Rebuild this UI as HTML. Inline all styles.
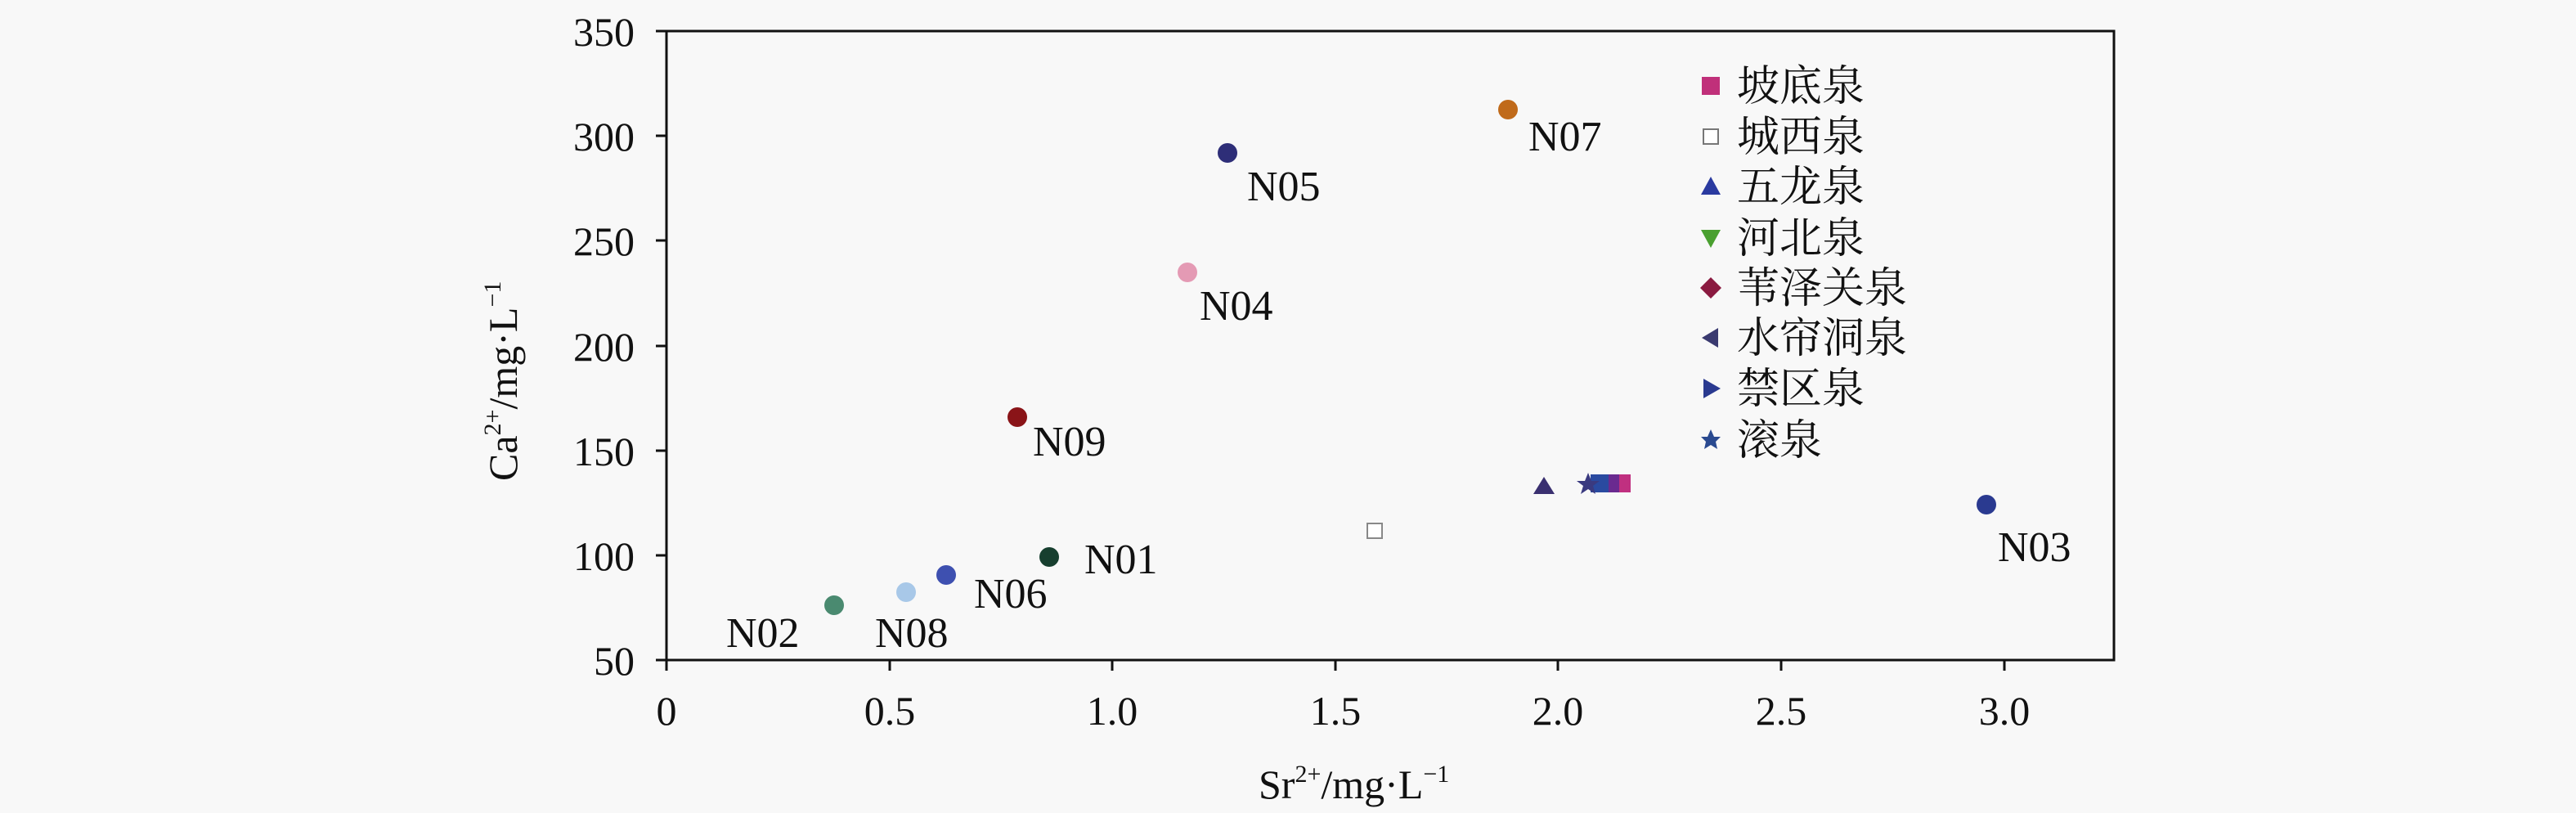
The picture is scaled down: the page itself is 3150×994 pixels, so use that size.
<!DOCTYPE html>
<html><head><meta charset="utf-8"><style>
html,body{margin:0;padding:0;background:#f8f8f8;}
svg{display:block;}
text{font-family:"Liberation Serif","Noto Serif CJK SC",serif;fill:#111;}
.cj{font-family:"Liberation Serif","Noto Serif CJK SC",serif;}
</style></head><body>
<svg width="3150" height="994" viewBox="0 0 3150 994" xmlns="http://www.w3.org/2000/svg">
<rect width="3150" height="994" fill="#f8f8f8"/>
<rect x="815" y="38" width="1770" height="769" fill="none" stroke="#111" stroke-width="3"/>
<g stroke="#111" stroke-width="3">
<line x1="802" y1="38" x2="815" y2="38"/><line x1="802" y1="166" x2="815" y2="166"/>
<line x1="802" y1="294" x2="815" y2="294"/><line x1="802" y1="423" x2="815" y2="423"/>
<line x1="802" y1="551" x2="815" y2="551"/><line x1="802" y1="679" x2="815" y2="679"/>
<line x1="802" y1="807" x2="815" y2="807"/>
<line x1="815" y1="807" x2="815" y2="820"/><line x1="1088" y1="807" x2="1088" y2="820"/>
<line x1="1360" y1="807" x2="1360" y2="820"/><line x1="1633" y1="807" x2="1633" y2="820"/>
<line x1="1905" y1="807" x2="1905" y2="820"/><line x1="2178" y1="807" x2="2178" y2="820"/>
<line x1="2451" y1="807" x2="2451" y2="820"/>
</g>
<g font-size="50" text-anchor="end">
<text x="776" y="56">350</text><text x="776" y="184">300</text><text x="776" y="312">250</text>
<text x="776" y="441">200</text><text x="776" y="569">150</text><text x="776" y="697">100</text>
<text x="776" y="825">50</text>
</g>
<g font-size="50" text-anchor="middle">
<text x="815" y="886">0</text><text x="1088" y="886">0.5</text><text x="1360" y="886">1.0</text>
<text x="1633" y="886">1.5</text><text x="1905" y="886">2.0</text><text x="2178" y="886">2.5</text>
<text x="2451" y="886">3.0</text>
</g>
<text x="1539" y="976" font-size="50">Sr<tspan font-size="30" dy="-20">2+</tspan><tspan dy="20">/mg·L</tspan><tspan font-size="30" dy="-20">−1</tspan></text>
<text transform="translate(632,588) rotate(-90)" font-size="50">Ca<tspan font-size="30" dy="-20">2+</tspan><tspan dy="20">/mg·L</tspan><tspan font-size="30" dy="-20">−1</tspan></text>
<circle cx="1501" cy="187" r="12" fill="#2e2e78"/>
<circle cx="1452" cy="333" r="12" fill="#e49ab4"/>
<circle cx="1244" cy="510" r="12" fill="#8a1418"/>
<circle cx="1283" cy="681" r="12" fill="#173f2f"/>
<circle cx="1157" cy="703" r="12" fill="#3e50b0"/>
<circle cx="1108" cy="724" r="12" fill="#a8c8e8"/>
<circle cx="1020" cy="740" r="12" fill="#4a8a70"/>
<circle cx="1844" cy="134" r="12" fill="#c06a1a"/>
<circle cx="2429" cy="617" r="12" fill="#2a3a90"/>
<rect x="1672" y="640" width="18" height="18" fill="#fff" stroke="#888" stroke-width="2"/>
<polygon points="1888,583 1901,604 1875,604" fill="#3a3070"/>
<rect x="1972" y="580" width="22" height="22" fill="#c03080"/>
<rect x="1958" y="580" width="22" height="22" fill="#6a2a90"/>
<rect x="1945" y="580" width="22" height="22" fill="#2a4aa0"/>
<polygon points="1942,578 1946,588 1956,588 1948,594 1951,604 1942,598 1933,604 1936,594 1928,588 1938,588" fill="#3a3a80"/>
<g font-size="52">
<text x="1525" y="245">N05</text><text x="1467" y="391">N04</text><text x="1263" y="557">N09</text>
<text x="1326" y="701">N01</text><text x="1191" y="743">N06</text><text x="1070" y="791">N08</text>
<text x="888" y="791">N02</text><text x="1869" y="184">N07</text><text x="2443" y="686">N03</text>
</g>
<rect x="2081" y="94" width="22" height="22" fill="#c0307a"/>
<rect x="2083" y="158" width="18" height="18" fill="#fff" stroke="#777" stroke-width="2"/>
<polygon points="2092,216 2104,238 2080,238" fill="#2a3aa0"/>
<polygon points="2080,281 2104,281 2092,303" fill="#4aa030"/>
<polygon points="2092,339 2105,352 2092,365 2079,352" fill="#8a1a40"/>
<polygon points="2081,413 2101,401 2101,425" fill="#3a3a70"/>
<polygon points="2083,463 2104,475 2083,487" fill="#2a3a90"/>
<polygon points="2092,525 2096,534 2104,534 2098,540 2100,549 2092,544 2084,549 2086,540 2080,534 2088,534" fill="#2a4a90"/>
<g class="cj" font-size="52">
<text x="2124" y="123" fill="#a02060">坡底泉</text>
<text x="2124" y="185" fill="#507040">城西泉</text>
<text x="2124" y="246" fill="#303050">五龙泉</text>
<text x="2124" y="309" fill="#607040">河北泉</text>
<text x="2124" y="370" fill="#602030">苇泽关泉</text>
<text x="2124" y="431" fill="#303050">水帘洞泉</text>
<text x="2124" y="493" fill="#303060">禁区泉</text>
<text x="2124" y="556" fill="#303060">滚泉</text>
</g>
</svg>
</body></html>
